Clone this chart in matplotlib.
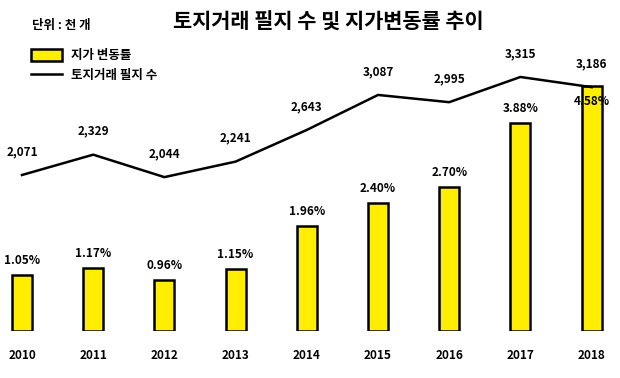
import matplotlib.pyplot as plt
from matplotlib.lines import Line2D
from matplotlib.patches import Patch

plt.rcParams['font.family'] = ['Noto Sans CJK KR', 'DejaVu Sans']

years = ['2010', '2011', '2012', '2013', '2014', '2015', '2016', '2017', '2018']
price_change = [1.05, 1.17, 0.96, 1.15, 1.96, 2.40, 2.70, 3.88, 4.58]
parcels = [2071, 2329, 2044, 2241, 2643, 3087, 2995, 3315, 3186]

bar_color = '#FFEE00'

fig = plt.figure(figsize=(6.2, 3.78), dpi=100)
ax = fig.add_axes([0, 47 / 378, 1, 331 / 378])
x = list(range(len(years)))

ax.bar(x, price_change, width=0.28, color=bar_color, edgecolor='black', linewidth=1.8, zorder=2)
ax.set_xlim(-0.309, 8.399)
ax.set_ylim(0, 6.187)
for i, v in enumerate(price_change):
    dy = -22 if i == len(x) - 1 else 8
    ax.annotate(f'{v:.2f}%', (i, v), xytext=(0, dy), textcoords='offset pixels',
                ha='center', va='bottom', fontsize=8.5, fontweight='bold', zorder=5)

ax2 = ax.twinx()
ax2.plot(x, parcels, color='black', linewidth=1.8, zorder=3)
ax2.set_ylim(91, 4292)
for i, v in enumerate(parcels):
    ax2.annotate(f'{v:,}', (i, v), xytext=(0, 17), textcoords='offset pixels',
                 ha='center', va='bottom', fontsize=8.5, fontweight='bold')

for a in (ax, ax2):
    for s in a.spines.values():
        s.set_visible(False)
    a.set_yticks([])
ax.set_xticks(x)
ax.set_xticklabels(years, fontsize=8.5, fontweight='bold')
ax.tick_params(axis='x', length=0, pad=13)

fig.text(0.53, 0.942, '토지거래 필지 수 및 지가변동률 추이', ha='center', va='center',
         fontsize=15, fontweight='bold')
fig.text(0.052, 0.932, '단위 : 천 개', ha='left', va='center', fontsize=9, fontweight='bold')

handles = [Patch(facecolor=bar_color, edgecolor='black', linewidth=1.8),
           Line2D([0], [0], color='black', linewidth=1.8)]
fig.legend(handles, ['지가 변동률', '토지거래 필지 수'], loc='upper left',
           bbox_to_anchor=(0.032, 0.9), frameon=False,
           prop={'weight': 'bold', 'size': 9}, handlelength=2.5, handleheight=1.1,
           labelspacing=0.5, handletextpad=0.7)

fig.savefig('out.png', dpi=100)
